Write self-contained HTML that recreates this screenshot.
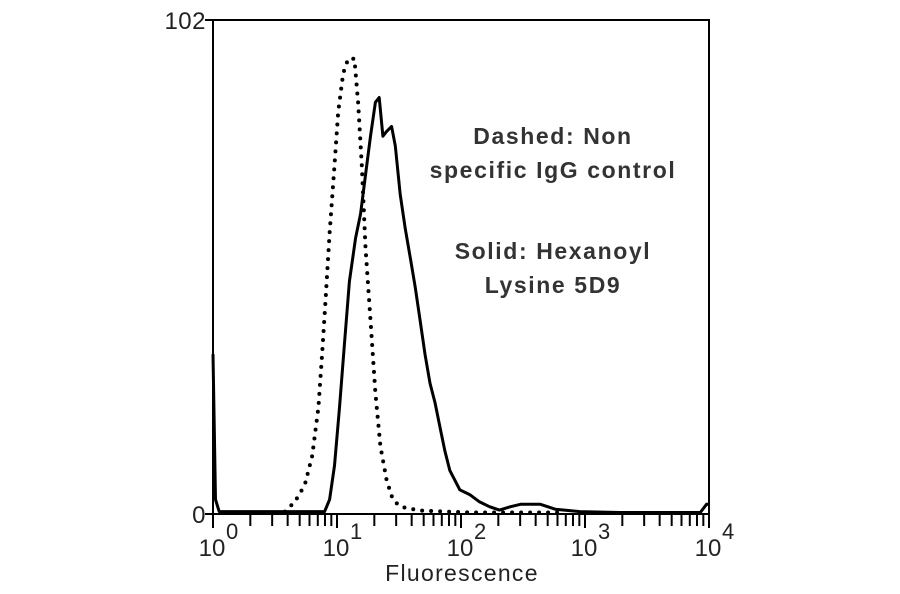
<!DOCTYPE html>
<html><head><meta charset="utf-8"><style>
body{margin:0;background:#fff;}
svg{display:block;font-family:"Liberation Sans",sans-serif;}
</style></head><body>
<svg id="chart" width="900" height="594" viewBox="0 0 900 594">
<g id="plot"></g>
</svg>
<script>
const xTickExps = [0, 1, 2, 3, 4];
const yTickLabels = ["0", "102"];
const yTickValues = [0, 102];
const solidLog = [0,0.02,0.05,0.9,0.94,0.98,1.02,1.06,1.10,1.15,1.19,1.23,1.27,1.31,1.34,1.37,1.40,1.44,1.47,1.51,1.55,1.59,1.63,1.67,1.71,1.75,1.79,1.83,1.87,1.91,1.95,1.99,2.07,2.15,2.23,2.31,2.40,2.48,2.64,2.76,2.96,3.28,3.93,3.98,4.0];
const solidCounts = [33,3,0.5,0.5,3,10,22,35,48,57,62,70,78,85,86,78,79,80,76,66,59,53,47,40,33,27,23,18,13,9,7,5,4,2.5,1.5,0.8,1.5,2,2,1,0.5,0.3,0.3,2,2];
const controlLog = [0.58,0.66,0.74,0.80,0.85,0.88,0.91,0.94,0.98,1.01,1.05,1.09,1.14,1.17,1.20,1.23,1.27,1.31,1.35,1.40,1.45,1.51,1.67,2.07,2.80];
const controlCounts = [0.5,2.5,6,12,22,33,45,58,72,83,91,94,94,85,72,55,40,25,14,7,3,1.5,0.7,0.3,0.3];

const L=213,R=709,T=20,B=514,YMAX=102;
const xs=v=>L+(v/4)*(R-L);
const ys=v=>B-(v/YMAX)*(B-T);
const NS="http://www.w3.org/2000/svg";
const g=document.getElementById('plot');
function mk(tag,attrs,parent){const e=document.createElementNS(NS,tag);for(const k in attrs)e.setAttribute(k,attrs[k]);(parent||g).appendChild(e);return e;}

const frame=mk('rect',{x:L,y:T,width:R-L,height:B-T,fill:'none',stroke:'#000','stroke-width':2});



for(let d=0;d<4;d++){for(let m=1;m<=9;m++){const v=d+Math.log10(m);const t=mk('line',{x1:xs(v),x2:xs(v),y1:B,y2:B+(m===1?14:12),stroke:'#000','stroke-width':2});

}}
const lt=mk('line',{x1:R,x2:R,y1:B,y2:B+14,stroke:'#000','stroke-width':2});


xTickExps.forEach(e=>{const t=mk('text',{x:xs(e)-1,y:556,'font-size':24,fill:'#222','text-anchor':'middle'});t.textContent='10';


const s=mk('text',{x:xs(e)+13,y:539,'font-size':22,fill:'#222'});s.textContent=String(e);

});
const xt=mk('text',{x:462,y:581,'font-size':23,fill:'#222','text-anchor':'middle','letter-spacing':'1.3'});xt.textContent='Fluorescence';



yTickValues.forEach((v,i)=>{const t=mk('line',{x1:L-8,x2:L,y1:ys(v),y2:ys(v),stroke:'#000','stroke-width':2});


const tx=mk('text',{x:L-7,y:ys(v)+9,'font-size':24,fill:'#222','text-anchor':'end','letter-spacing':'0.5'});tx.textContent=yTickLabels[i];

});

function pts(a,b){return a.map((v,i)=>xs(v).toFixed(1)+','+ys(b[i]).toFixed(1)).join(' ');}
const ctrl=mk('polyline',{points:pts(controlLog,controlCounts),fill:'none',stroke:'#000','stroke-width':4,'stroke-dasharray':'0 9','stroke-linecap':'round'});


const sol=mk('polyline',{points:pts(solidLog,solidCounts),fill:'none',stroke:'#000','stroke-width':3,'stroke-linejoin':'round'});



[["Dashed: Non",144],["specific IgG control",178],["Solid: Hexanoyl",259],["Lysine 5D9",293]].forEach(([s,y])=>{const t=mk('text',{x:553,y:y,'font-size':23,'font-weight':'bold',fill:'#333','text-anchor':'middle','letter-spacing':'1.6'});t.textContent=s;

});
</script>
</body></html>
